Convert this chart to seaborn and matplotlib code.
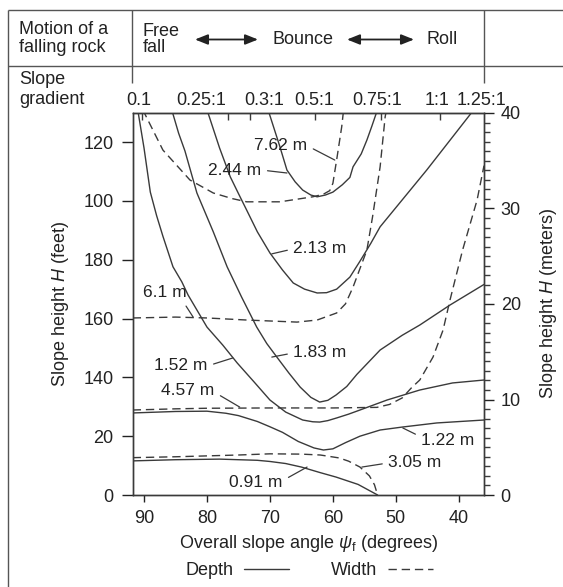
import numpy as np
import pandas as pd
import matplotlib
matplotlib.use("Agg")
import matplotlib.pyplot as plt
from matplotlib.lines import Line2D
from matplotlib.ticker import MultipleLocator
import seaborn as sns

# -------------------------
# data: overall slope angle (deg) vs slope height (ft)
# -------------------------
# depth curves (solid)
d091_ang = [91.8, 85, 78, 72, 70, 67.5, 65, 62, 59.5, 56, 52.9]
d091_ft = [11.6, 12.0, 12.2, 11.8, 11.4, 10.7, 9.5, 7.6, 6.1, 3.6, 0.0]

d122_ang = [91.8, 85, 80, 77, 75, 72, 70, 68, 65.5, 63, 61.5, 60, 58, 55.7, 52.5, 49, 43.5, 36]
d122_ft = [27.9, 28.4, 28.5, 27.8, 27.0, 25.0, 23.2, 21.3, 18.2, 16.0, 15.3, 15.7, 17.8, 20.0, 22.1, 23.1, 24.5, 25.5]

d152_ang = [91, 90, 89, 88, 87, 85.4, 84, 83, 80, 77.5, 75.2, 72.5, 70, 67.5, 64.8, 63.2, 62.1, 60.8,
            59.4, 57.5, 55.7, 51.4, 46.2, 41, 36]
d152_ft = [131, 118, 103, 95, 88, 77.6, 72.5, 68, 57.1, 51, 44.9, 38.4, 32.3, 28.2, 25.5, 24.9, 24.8, 25.3,
           26.2, 27.5, 28.9, 32.3, 35.7, 38.1, 39.1]

d183_ang = [85.6, 84.5, 83.5, 81.6, 79, 76.8, 74.5, 72.1, 70.5, 68.9, 67, 65.2, 63.5, 62.1, 60.8, 59.5,
            57.8, 56.2, 52.5, 49, 46.2, 41.4, 36]
d183_ft = [131, 123, 117, 102.7, 89.5, 77.6, 67.3, 57.1, 51.5, 46.9, 41.5, 36.7, 33.2, 31.6, 32.2, 34.0,
           36.9, 41.0, 49.3, 54.3, 57.8, 64.6, 71.6]

d213_ang = [80, 78, 76.3, 75, 73.7, 72, 70, 68, 66.3, 64.5, 62.5, 61, 59.4, 57.3, 55.7, 54, 52.5, 45.1, 37.8]
d213_ft = [131, 118, 108.2, 102.5, 96.9, 89.5, 82.3, 76.5, 72.1, 70.0, 68.7, 68.8, 70.0, 74.1, 79.5, 85.5,
           91.2, 110.5, 130.5]

d244_ang = [70.3, 68.5, 67.3, 66, 64.8, 63.5, 62.5, 61.2, 60, 58.5, 57.3, 56.8, 55.5, 54.6, 53.8, 53]
d244_ft = [131, 119, 110.5, 106.5, 103.7, 102.0, 101.4, 102.0, 103.0, 105.5, 108.0, 111.6, 116.0, 120.7, 125.5, 130.5]

# width curves (dashed)
w305_ang = [91.8, 85, 80, 75, 70, 65, 62, 59, 57.5, 55.7, 54.2, 53.4, 52.9]
w305_ft = [12.7, 13.0, 13.3, 13.6, 14.0, 13.9, 13.6, 12.6, 11.5, 9.5, 6.5, 3.5, 0.0]

w457_ang = [91.8, 85, 80, 70, 60, 53, 51, 49, 47.5, 46.2, 44.1, 42.5, 41.4, 39.4, 37.1, 36]
w457_ft = [28.9, 29.3, 29.5, 29.6, 29.6, 29.8, 30.8, 33.0, 36.5, 39.1, 46.9, 56.1, 66.3, 83.3, 100.3, 112]

w610_ang = [91.8, 85, 80, 73.7, 65.7, 62.5, 59.4, 58, 56.8, 54.6, 53.7, 52.5, 51.7, 51.4]
w610_ft = [60.2, 60.5, 60.2, 59.5, 58.8, 59.5, 61.9, 65.0, 70.7, 83.3, 94.6, 111.6, 128.6, 132]

w762_ang = [90.2, 87, 82.7, 79, 76, 73.7, 68.4, 63.2, 61.5, 60.5, 60, 59.4, 58.6, 58.3]
w762_ft = [131, 117.3, 107.1, 102.7, 100.8, 99.7, 99.7, 101.4, 102.3, 103.5, 106.0, 114.0, 125.2, 131]

CURVES = [
    ("0.91 m", "Depth", d091_ang, d091_ft),
    ("1.22 m", "Depth", d122_ang, d122_ft),
    ("1.52 m", "Depth", d152_ang, d152_ft),
    ("1.83 m", "Depth", d183_ang, d183_ft),
    ("2.13 m", "Depth", d213_ang, d213_ft),
    ("2.44 m", "Depth", d244_ang, d244_ft),
    ("3.05 m", "Width", w305_ang, w305_ft),
    ("4.57 m", "Width", w457_ang, w457_ft),
    ("6.1 m", "Width", w610_ang, w610_ft),
    ("7.62 m", "Width", w762_ang, w762_ft),
]

# curve labels: (text, text pos (deg, ft), leader end on curve (deg, ft), leader start on text box)
LABELS = [
    ("7.62 m", (68.25, 118.7), (59.7, 113.9), (1.0, 0.5)),
    ("2.44 m", (75.56, 110.5), (67.3, 109.5), (1.0, 0.5)),
    ("2.13 m", (62.06, 83.7), (69.7, 82.0), (0.0, 0.5)),
    ("6.1 m", (86.67, 68.7), (82.2, 60.5), (0.9, 0.0)),
    ("1.83 m", (62.06, 48.3), (69.7, 46.9), (0.0, 0.5)),
    ("1.52 m", (84.13, 43.9), (75.9, 46.6), (1.0, 0.5)),
    ("4.57 m", (83.0, 35.4), (74.8, 29.9), (1.0, 0.4)),
    ("1.22 m", (41.75, 18.7), (48.9, 22.8), (0.0, 0.7)),
    ("3.05 m", (46.98, 10.9), (55.4, 9.5), (0.0, 0.5)),
    ("0.91 m", (72.2, 4.4), (64.1, 9.5), (1.0, 0.6)),
]

X_TICKS = [90, 80, 70, 60, 50, 40]
Y_TICKS = [0, 20, 40, 60, 80, 100, 120]
Y_TICK_LABELS = ["0", "20", "140", "160", "180", "100", "120"]
M_TICKS = [0, 10, 20, 30, 40]
# slope gradient: tick marks and (offset) label positions, in degrees
TOP_TICKS = [90.3, 76.7, 73.2, 62.9, 52.4, 43.0]
TOP_LABEL_POS = [90.8, 80.95, 70.95, 63.0, 52.9, 43.5, 36.35]
TOP_LABELS = ["0.1", "0.25:1", "0.3:1", "0.5:1", "0.75:1", "1:1", "1.25:1"]

# -------------------------
# style
# -------------------------
sns.set_style("ticks")
plt.rcParams["font.family"] = ["Liberation Sans", "DejaVu Sans"]
plt.rcParams["mathtext.fontset"] = "custom"
plt.rcParams["mathtext.rm"] = "Liberation Sans"
plt.rcParams["mathtext.it"] = "Liberation Sans:italic"

INK = "#222222"
LINE = "#3a3a3a"
FRAME = "#555555"
FS = 13
DASH = (0, (6, 3.5))

W, H = 563, 587
fig = plt.figure(figsize=(W / 100, H / 100), dpi=100)
ax = fig.add_axes([133 / W, 1 - 495 / H, (484 - 133) / W, (495 - 113) / H])

rows = []
for name, kind, a, f in CURVES:
    rows.append(pd.DataFrame({"angle": a, "height": f, "curve": name, "kind": kind}))
df = pd.concat(rows, ignore_index=True)

for name, sub in df.groupby("curve", sort=False):
    ls = "-" if sub["kind"].iloc[0] == "Depth" else DASH
    sns.lineplot(data=sub, x="angle", y="height", ax=ax, sort=False, estimator=None,
                 color=LINE, lw=1.0, linestyle=ls)

ax.set_xlim(91.75, 36.0)
ax.set_ylim(0, 129.9)
ax.set_xticks(X_TICKS)
ax.set_yticks(Y_TICKS, labels=Y_TICK_LABELS)
ax.tick_params(axis="y", direction="out", length=8, width=1, pad=6, labelsize=FS, colors=INK)
ax.tick_params(axis="x", direction="out", length=5, width=1, pad=6, labelsize=FS, colors=INK)
for sp in ax.spines.values():
    sp.set_visible(True)
    sp.set_color(LINE)
    sp.set_linewidth(1.0)

ax.set_xlabel("Overall slope angle $\\psi_\\mathrm{f}$ (degrees)", fontsize=FS, color=INK, labelpad=4)
ax.set_ylabel("Slope height $H$ (feet)", fontsize=FS, color=INK)
ax.yaxis.set_label_coords(-0.178, 0.5)

for text, tpos, cpos, rel in LABELS:
    ax.annotate(text, xy=cpos, xytext=tpos, ha="center", va="center", fontsize=12.5, color=INK,
                arrowprops=dict(arrowstyle="-", color=LINE, lw=0.9, shrinkA=2, shrinkB=0, relpos=rel))

# right axis in meters
ax2 = ax.twinx()
ax2.set_ylim(0, 40)
ax2.set_yticks(M_TICKS)
ax2.yaxis.set_minor_locator(MultipleLocator(1))
ax2.tick_params(which="major", direction="out", length=7, width=1, pad=5, labelsize=FS, colors=INK)
ax2.tick_params(which="minor", direction="out", length=4.5, width=1, colors=LINE)
for sp in ax2.spines.values():
    sp.set_color(LINE)
    sp.set_linewidth(1.0)
ax2.set_ylabel("Slope height $H$ (meters)", fontsize=FS, color=INK)
ax2.yaxis.set_label_coords(1.155, 0.5)

# slope gradient on top: marks as major ticks, text as tickless minor labels
sec = ax.secondary_xaxis("top")
sec.set_xticks(TOP_TICKS, labels=[""] * len(TOP_TICKS))
sec.set_xticks(TOP_LABEL_POS, labels=TOP_LABELS, minor=True)
sec.tick_params(which="major", direction="in", length=5, width=1, colors=LINE)
sec.tick_params(which="minor", direction="in", length=0, pad=2.7, labelsize=FS, labelcolor=INK)
sec.spines["top"].set_color(LINE)

# legend under the axis title
handles = [Line2D([], [], color=LINE, lw=1.0),
           Line2D([], [], color=LINE, lw=1.0, linestyle=DASH)]
fig.legend(handles, ["Depth", "Width"], ncol=2, markerfirst=False, frameon=False,
           loc="center", bbox_to_anchor=(0.549, 0.028), handlelength=2.5,
           handletextpad=0.6, columnspacing=2.3, fontsize=FS, labelcolor=INK)

# -------------------------
# header table (pixel coordinates overlay)
# -------------------------
ov = fig.add_axes([0, 0, 1, 1])
ov.set_xlim(0, W)
ov.set_ylim(H, 0)
ov.axis("off")
ov.hlines([9.5, 66], 8, W, color=FRAME, lw=1.0)
ov.vlines(8, 9.5, H, color=FRAME, lw=1.0)
ov.vlines([132, 484], 9.5, 83, color=FRAME, lw=1.0)

hdr = dict(fontsize=FS, color=INK, va="center", ha="left")
ov.text(19, 30, "Motion of a", **hdr)
ov.text(19, 48, "falling rock", **hdr)
ov.text(143, 31, "Free", **hdr)
ov.text(143, 48, "fall", **hdr)
ov.text(272, 40, "Bounce", **hdr)
ov.text(427, 40, "Roll", **hdr)
ov.text(19, 80, "Slope", **hdr)
ov.text(19, 99, "gradient", **hdr)
for x0, x1 in [(195, 258), (347, 414)]:
    ov.annotate("", xy=(x1, 39.5), xytext=(x0, 39.5),
                arrowprops=dict(arrowstyle="<|-|>,head_length=0.55,head_width=0.22",
                                mutation_scale=14, color=INK, lw=1.3, shrinkA=0, shrinkB=0))

fig.savefig("out.png", dpi=100, facecolor="white")
